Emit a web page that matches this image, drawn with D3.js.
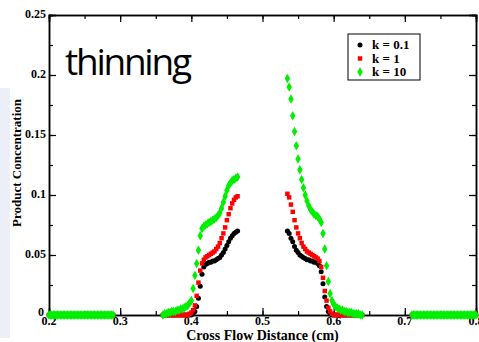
<!DOCTYPE html>
<html>
<head>
<meta charset="utf-8">
<script src="https://cdn.jsdelivr.net/npm/d3@7"></script>
<style>
  body { margin: 0; background: #fff; }
  svg { display: block; }
  .tick-label { font-family: "Liberation Serif", serif; font-weight: bold; font-size: 12px; }
  .axis-title { font-family: "Liberation Serif", serif; font-weight: bold; font-size: 14px; }
  .legend-label { font-family: "Liberation Serif", serif; font-weight: bold; font-size: 13px; }
</style>
</head>
<body>
<svg width="479" height="342"></svg>
<script>
// sampling grid of the two lobes (cm)
var leftX = d3.range(0, 43).map(function(i) { return +(0.36 + i * 0.0025).toFixed(4); });
var rightX = d3.range(0, 43).map(function(i) { return +(0.535 + i * 0.0025).toFixed(4); });
// flat zero stretches at the two ends
var flatLeftX = d3.range(0, 46).map(function(i) { return +(0.2 + i * 0.002).toFixed(4); });
var flatRightX = d3.range(0, 46).map(function(i) { return +(0.71 + i * 0.002).toFixed(4); });

var seriesNames = ["k = 0.1", "k = 1", "k = 10"];

// k = 0.1
var k01Left = [0,0,0,0,0,0,0,0,0,0,0,0,0,0,0,0,0,0.001,0.003,0.007,0.014,0.024,0.034,0.040,0.042,0.043,0.044,0.044,0.045,0.045,0.046,0.047,0.048,0.050,0.052,0.055,0.058,0.061,0.064,0.066,0.068,0.069,0.070];
var k01Right = [0.070,0.068,0.064,0.061,0.057,0.054,0.052,0.050,0.049,0.048,0.047,0.046,0.046,0.045,0.045,0.044,0.044,0.043,0.041,0.036,0.026,0.015,0.007,0.003,0.001,0,0,0,0,0,0,0,0,0,0,0,0,0,0,0,0,0,0];
// k = 1
var k1Left = [0,0,0,0,0,0,0,0,0,0,0,0,0,0,0,0.001,0.002,0.004,0.008,0.016,0.027,0.037,0.043,0.046,0.048,0.049,0.050,0.051,0.052,0.053,0.055,0.057,0.060,0.064,0.068,0.073,0.079,0.084,0.089,0.093,0.096,0.098,0.099];
var k1Right = [0.101,0.098,0.092,0.086,0.079,0.073,0.068,0.064,0.060,0.057,0.055,0.053,0.052,0.051,0.050,0.049,0.048,0.047,0.045,0.040,0.031,0.020,0.012,0.006,0.003,0.001,0,0,0,0,0,0,0,0,0,0,0,0,0,0,0,0,0];
// k = 10
var k10Left = [0,0.001,0.001,0.002,0.002,0.003,0.003,0.003,0.004,0.004,0.005,0.005,0.006,0.007,0.008,0.010,0.012,0.022,0.033,0.043,0.054,0.066,0.072,0.074,0.075,0.076,0.077,0.078,0.079,0.080,0.081,0.083,0.085,0.089,0.094,0.099,0.104,0.108,0.110,0.112,0.113,0.114,0.115];
var k10Right = [0.197,0.190,0.180,0.166,0.153,0.141,0.130,0.121,0.113,0.106,0.100,0.095,0.091,0.088,0.086,0.084,0.083,0.082,0.080,0.077,0.068,0.055,0.041,0.028,0.018,0.012,0.009,0.007,0.006,0.005,0.004,0.004,0.003,0.003,0.002,0.002,0.002,0.001,0.001,0.001,0.001,0,0];

var xTicks = [0.2, 0.3, 0.4, 0.5, 0.6, 0.7, 0.8];
var yTicks = [0, 0.05, 0.1, 0.15, 0.2, 0.25];

var svg = d3.select("svg"),
    plotLeft = 49, plotRight = 476, plotTop = 15, plotBottom = 315;

// pale strip at the left edge of the original figure
svg.append("rect")
    .attr("x", 0).attr("y", 88).attr("width", 10).attr("height", 250)
    .attr("fill", "#eceef8");

var xScale = d3.scaleLinear().domain([0.2, 0.8]).range([plotLeft, plotRight]),
    yScale = d3.scaleLinear().domain([0, 0.25]).range([plotBottom, plotTop]);

function points(xs, ys) {
    return xs.map(function(x, i) { return {x: x, y: ys[i]}; });
}
function zeros(xs) {
    return xs.map(function(x) { return {x: x, y: 0}; });
}
var flat = zeros(flatLeftX).concat(zeros(flatRightX));

var series = [
    {name: seriesNames[0], color: "#000000", symbol: d3.symbolCircle, size: 20,
     data: flat.concat(points(leftX, k01Left), points(rightX, k01Right))},
    {name: seriesNames[1], color: "#ff0000", symbol: d3.symbolSquare, size: 20,
     data: flat.concat(points(leftX, k1Left), points(rightX, k1Right))},
    {name: seriesNames[2], color: "#00ee00", symbol: d3.symbolDiamond, size: 26,
     data: flat.concat(points(leftX, k10Left), points(rightX, k10Right))}
];

// axes (ticks inward on all four sides)
var minorX = d3.range(0.2, 0.81, 0.05),
    minorY = d3.range(0, 0.26, 0.025);
var g = svg.append("g");
g.append("g")
    .attr("transform", "translate(0," + plotBottom + ")")
    .call(d3.axisBottom(xScale).tickValues(minorX).tickSize(-4).tickFormat(""));
g.append("g")
    .attr("transform", "translate(0," + plotBottom + ")")
    .call(d3.axisBottom(xScale).tickValues(xTicks).tickSize(-7).tickFormat(""));
g.append("g")
    .attr("transform", "translate(0," + plotTop + ")")
    .call(d3.axisTop(xScale).tickValues(minorX).tickSize(-4).tickFormat(""));
g.append("g")
    .attr("transform", "translate(0," + plotTop + ")")
    .call(d3.axisTop(xScale).tickValues(xTicks).tickSize(-7).tickFormat(""));
g.append("g")
    .attr("transform", "translate(" + plotLeft + ",0)")
    .call(d3.axisLeft(yScale).tickValues(minorY).tickSize(-4).tickFormat(""));
g.append("g")
    .attr("transform", "translate(" + plotLeft + ",0)")
    .call(d3.axisLeft(yScale).tickValues(yTicks).tickSize(-7).tickFormat(""));
g.append("g")
    .attr("transform", "translate(" + plotRight + ",0)")
    .call(d3.axisRight(yScale).tickValues(minorY).tickSize(-4).tickFormat(""));
g.append("g")
    .attr("transform", "translate(" + plotRight + ",0)")
    .call(d3.axisRight(yScale).tickValues(yTicks).tickSize(-7).tickFormat(""));
g.selectAll(".domain").attr("stroke", "#000").attr("stroke-width", 1.5);
g.selectAll(".tick line").attr("stroke", "#000").attr("stroke-width", 1.2);

// tick labels
svg.selectAll(".xlab")
    .data(xTicks)
    .enter().append("text")
    .attr("class", "tick-label")
    .attr("x", function(d) { return xScale(d); })
    .attr("y", plotBottom + 10)
    .attr("text-anchor", "middle")
    .text(function(d) { return d3.format(".1f")(d); });
svg.selectAll(".ylab")
    .data(yTicks)
    .enter().append("text")
    .attr("class", "tick-label")
    .attr("x", function(d) { return d === 0 ? plotLeft - 5 : plotLeft - 3; })
    .attr("y", function(d) { return d === 0 ? yScale(d) + 1 : yScale(d) + 3; })
    .attr("text-anchor", "end")
    .text(function(d) { return d === 0 ? "0" : String(d); });

svg.append("text")
    .attr("class", "axis-title")
    .attr("x", (plotLeft + plotRight) / 2)
    .attr("y", 340)
    .attr("text-anchor", "middle")
    .text("Cross Flow Distance (cm)");
svg.append("text")
    .attr("class", "axis-title")
    .attr("transform", "translate(21," + ((plotTop + plotBottom) / 2 - 2) + ") rotate(-90)")
    .attr("text-anchor", "middle")
    .style("font-size", "13px")
    .text("Product Concentration");

svg.append("text")
    .attr("x", 65)
    .attr("y", 75)
    .attr("font-family", "Open Sans, sans-serif")
    .attr("font-size", 37)
    .attr("textLength", 127)
    .text("thinning");

// markers
series.forEach(function(s) {
    svg.append("g")
        .selectAll("path")
        .data(s.data)
        .enter().append("path")
        .attr("transform", function(d) { return "translate(" + xScale(d.x) + "," + yScale(d.y) + ")"; })
        .attr("d", d3.symbol().type(s.symbol).size(s.size))
        .attr("fill", s.color);
});

// legend
var legend = svg.append("g").attr("transform", "translate(348,34)");
legend.append("rect")
    .attr("width", 72).attr("height", 46)
    .attr("fill", "#fff").attr("stroke", "#000").attr("stroke-width", 1);
series.forEach(function(s, i) {
    legend.append("path")
        .attr("transform", "translate(12," + (11 + i * 13.5) + ")")
        .attr("d", d3.symbol().type(s.symbol).size(s.size))
        .attr("fill", s.color);
    legend.append("text")
        .attr("class", "legend-label")
        .attr("x", 24)
        .attr("y", 15 + i * 13.5)
        .text(s.name);
});
</script>
</body>
</html>
